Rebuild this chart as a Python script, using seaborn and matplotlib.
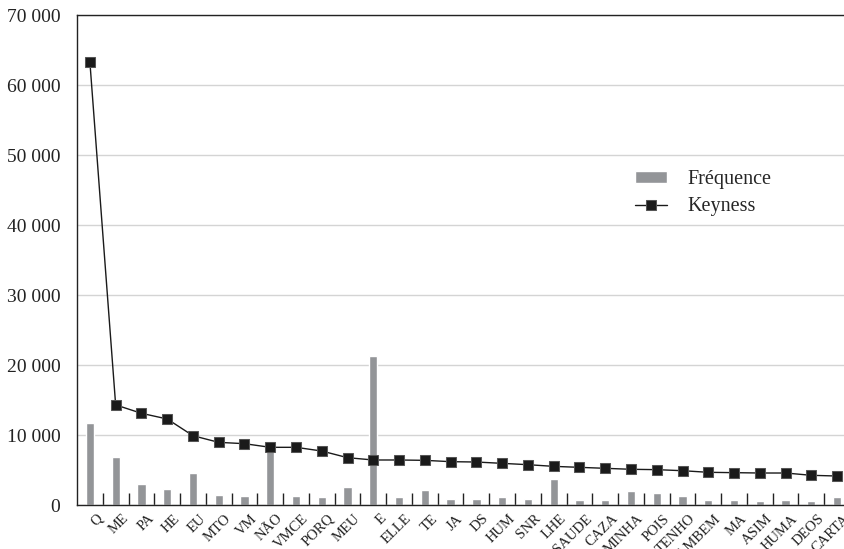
import matplotlib

matplotlib.use("Agg")
import matplotlib.pyplot as plt
import seaborn as sns
from matplotlib.ticker import FixedLocator, FuncFormatter
from matplotlib.transforms import ScaledTranslation

categories = ["Q", "ME", "PA", "HE", "EU", "MTO", "VM", "NÃO", "VMCE", "PORQ",
              "MEU", "E", "ELLE", "TE", "JA", "DS", "HUM", "SNR", "LHE", "SAUDE",
              "CAZA", "MINHA", "POIS", "TENHO", "TAMBEM", "MA", "ASIM", "HUMA",
              "DEOS", "CARTA"]
frequence = [11750, 6900, 3000, 2300, 4600, 1430, 1290, 9140, 1290, 1140,
             2570, 21300, 1140, 2190, 860, 860, 1140, 860, 3710, 710,
             710, 2050, 1710, 1290, 710, 710, 570, 710, 570, 1140]
keyness = [63300, 14300, 13100, 12290, 9900, 8950, 8760, 8240, 8240, 7710,
           6760, 6430, 6430, 6380, 6190, 6140, 5950, 5760, 5520, 5380,
           5240, 5100, 5050, 4900, 4670, 4620, 4570, 4570, 4240, 4140]

sns.set_style("white")
plt.rcParams["font.family"] = ["Liberation Serif", "DejaVu Serif"]

fig = plt.figure(figsize=(8.45, 5.49), dpi=100)
ax = fig.add_axes([77 / 845, 44 / 549, 773 / 845, 490 / 549])

ax.yaxis.grid(True, color="#d4d4d4", linewidth=1)
ax.set_axisbelow(True)

sns.barplot(x=categories, y=frequence, color="#939598", width=0.32,
            saturation=1, ax=ax, label="Fréquence", zorder=2)
sns.pointplot(x=categories, y=keyness, color="#1a1a1a", markers="s",
              markersize=7, linewidth=1, ax=ax, label="Keyness", zorder=3,
              markeredgecolor="#555555")

ax.set_xlim(-0.5, len(categories) - 0.5)
ax.set_ylim(0, 70000)
ax.set_yticks(range(0, 70001, 10000))
ax.yaxis.set_major_formatter(FuncFormatter(lambda v, _: f"{int(v):,}".replace(",", " ")))
ax.tick_params(axis="y", length=0, pad=12, labelsize=14, labelcolor="#222222")

# category separators drawn as inward minor ticks
ax.xaxis.set_minor_locator(FixedLocator([i + 0.5 for i in range(len(categories) - 1)]))
ax.tick_params(axis="x", which="minor", bottom=True, direction="in", length=9,
               width=1, color="#222222")
ax.tick_params(axis="x", which="major", bottom=True, length=0, pad=5)

for side in ["left", "bottom", "top", "right"]:
    ax.spines[side].set_color("#222222")
    ax.spines[side].set_linewidth(1)

ax.set_xlabel("")
ax.set_ylabel("")
handles, labels = ax.get_legend_handles_labels()
order = [labels.index("Fréquence"), labels.index("Keyness")]
ax.legend([handles[i] for i in order], [labels[i] for i in order],
          loc="upper left", bbox_to_anchor=(617 / 845, 1 - 152 / 549),
          bbox_transform=fig.transFigure, frameon=False, fontsize=14.5,
          handlelength=1.6, handleheight=0.5, labelspacing=0.4, handletextpad=1.0)

# rotated labels, nudged right so they end just past the category centre
shift = ScaledTranslation(0.06, 0, fig.dpi_scale_trans)
for lbl in ax.get_xticklabels():
    lbl.set_rotation(45)
    lbl.set_ha("right")
    lbl.set_va("top")
    lbl.set_rotation_mode("anchor")
    lbl.set_fontsize(10.5)
    lbl.set_color("#222222")
    lbl.set_transform(lbl.get_transform() + shift)

fig.savefig("out.png", dpi=100)
plt.close(fig)
